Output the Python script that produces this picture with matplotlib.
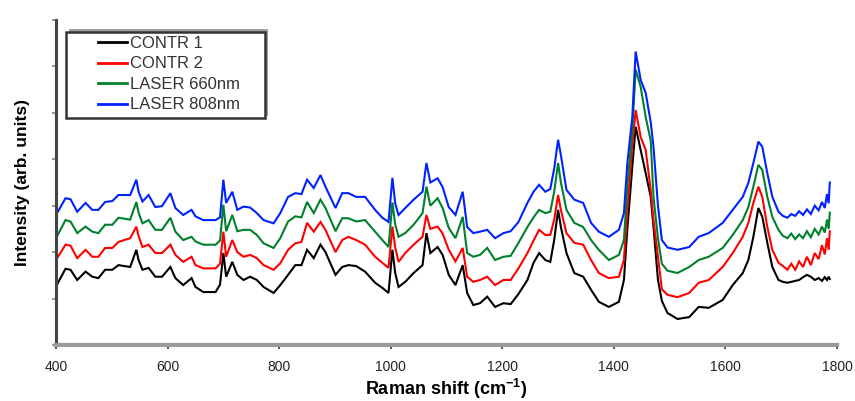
import matplotlib
matplotlib.use('Agg')
import matplotlib.pyplot as plt
from matplotlib.patches import Rectangle
from matplotlib.lines import Line2D

plt.rcParams['font.family'] = ['Liberation Sans', 'DejaVu Sans']
plt.rcParams['mathtext.default'] = 'regular'

# Raman shift positions (cm^-1), shared by all spectra
shift = [400, 417, 426, 438, 453, 465, 476, 488, 501, 512, 533, 544, 548, 555, 566,
         578, 590, 605, 614, 628, 643, 650, 664, 686, 694, 700, 705, 716, 725, 736,
         748, 760, 772, 790, 802, 816, 829, 840, 850, 862, 874, 883, 901, 913, 924,
         938, 954, 972, 985, 996, 1003, 1008, 1014, 1026, 1041, 1057, 1064, 1071, 1084,
         1093, 1104, 1116, 1129, 1137, 1148, 1160, 1173, 1187, 1202, 1215, 1229, 1245,
         1256, 1266, 1277, 1286, 1293, 1300, 1305, 1315, 1329, 1345, 1359, 1373, 1391,
         1409, 1418, 1424, 1433, 1439, 1448, 1457, 1466, 1471, 1479, 1486, 1496, 1514,
         1535, 1552, 1570, 1595, 1613, 1631, 1641, 1650, 1659, 1666, 1675, 1684, 1695,
         1703, 1711, 1718, 1725, 1732, 1739, 1746, 1753, 1760, 1767, 1773, 1778, 1782,
         1785, 1787]

contr1 = [1.26, 1.64, 1.62, 1.40, 1.58, 1.47, 1.44, 1.62, 1.62, 1.72, 1.68, 2.05, 1.83, 1.62, 1.66,
          1.47, 1.47, 1.68, 1.44, 1.29, 1.44, 1.25, 1.14, 1.14, 1.30, 1.98, 1.47, 1.79, 1.51, 1.40,
          1.47, 1.40, 1.25, 1.12, 1.29, 1.51, 1.72, 1.72, 2.05, 1.87, 2.16, 2.00, 1.51, 1.68, 1.72,
          1.70, 1.58, 1.34, 1.23, 1.12, 2.05, 1.55, 1.25, 1.36, 1.55, 1.72, 2.41, 1.98, 2.11,
          1.94, 1.51, 1.29, 1.72, 1.12, 0.86, 0.90, 1.04, 0.82, 0.90, 0.88, 1.10, 1.40,
          1.77, 1.98, 1.83, 1.79, 2.26, 2.91, 2.54, 1.98, 1.55, 1.47, 1.19, 0.93, 0.82,
          0.93, 1.40, 2.48, 3.84, 4.70, 4.20, 3.70, 3.19, 2.54, 1.40, 0.95, 0.69, 0.56,
          0.60, 0.82, 0.80, 0.97, 1.29, 1.55, 1.83, 2.33, 2.95, 2.76, 2.20, 1.68, 1.40,
          1.36, 1.34, 1.36, 1.38, 1.40, 1.46, 1.51, 1.47, 1.40, 1.44, 1.38, 1.46, 1.40,
          1.47, 1.42]

contr2 = [1.83, 2.16, 2.14, 1.87, 2.05, 1.90, 1.90, 2.09, 2.09, 2.22, 2.30, 2.55, 2.35, 2.11, 2.16,
          1.98, 1.98, 2.16, 1.94, 1.79, 1.90, 1.72, 1.65, 1.65, 1.75, 2.44, 1.90, 2.26, 2.00, 1.90,
          1.94, 1.87, 1.72, 1.62, 1.76, 2.05, 2.19, 2.22, 2.63, 2.44, 2.65, 2.48, 2.00, 2.26, 2.33,
          2.26, 2.16, 1.90, 1.77, 1.66, 2.55, 2.10, 1.79, 1.98, 2.16, 2.33, 2.80, 2.50, 2.55,
          2.40, 2.05, 1.80, 2.09, 1.47, 1.36, 1.40, 1.47, 1.29, 1.40, 1.40, 1.65, 1.98,
          2.25, 2.48, 2.37, 2.37, 2.70, 3.23, 2.91, 2.41, 2.20, 2.16, 1.83, 1.55, 1.44,
          1.47, 1.83, 2.90, 4.30, 5.06, 4.48, 4.20, 3.34, 2.70, 1.90, 1.20, 1.08, 1.03,
          1.12, 1.34, 1.40, 1.68, 1.98, 2.33, 2.63, 3.06, 3.41, 3.19, 2.54, 2.05, 1.77,
          1.70, 1.62, 1.75, 1.62, 1.80, 1.68, 1.90, 1.72, 1.98, 1.85, 2.15, 1.95, 2.30,
          2.05, 2.45]

laser660 = [2.30, 2.69, 2.66, 2.41, 2.55, 2.44, 2.41, 2.59, 2.59, 2.74, 2.70, 3.08, 2.85, 2.62, 2.69,
            2.48, 2.48, 2.74, 2.44, 2.26, 2.33, 2.23, 2.16, 2.16, 2.25, 3.02, 2.45, 2.80, 2.45, 2.48,
            2.48, 2.37, 2.19, 2.09, 2.30, 2.66, 2.77, 2.75, 3.08, 2.84, 3.13, 2.95, 2.45, 2.73, 2.73,
            2.66, 2.69, 2.44, 2.26, 2.11, 3.07, 2.60, 2.33, 2.41, 2.59, 2.84, 3.41, 3.00, 3.16,
            2.95, 2.52, 2.30, 2.76, 1.98, 1.90, 1.94, 2.09, 1.83, 1.90, 1.92, 2.20, 2.54,
            2.75, 2.91, 2.84, 2.87, 3.30, 3.92, 3.50, 2.91, 2.63, 2.54, 2.26, 2.05, 1.83,
            1.94, 2.26, 3.40, 4.63, 5.93, 5.56, 4.91, 4.40, 3.19, 2.30, 1.75, 1.60, 1.55,
            1.68, 1.83, 1.90, 2.09, 2.37, 2.69, 2.97, 3.41, 3.88, 3.77, 3.19, 2.76, 2.48,
            2.35, 2.30, 2.40, 2.28, 2.38, 2.30, 2.45, 2.32, 2.50, 2.38, 2.55, 2.42, 2.70,
            2.50, 2.85]

laser808 = [2.80, 3.16, 3.14, 2.87, 3.06, 2.91, 2.91, 3.08, 3.10, 3.23, 3.23, 3.56, 3.30, 3.09, 3.23,
            2.97, 2.99, 3.27, 2.95, 2.80, 2.91, 2.77, 2.69, 2.69, 2.75, 3.56, 3.06, 3.30, 2.91, 2.98,
            2.96, 2.84, 2.69, 2.62, 2.84, 3.19, 3.27, 3.25, 3.56, 3.38, 3.66, 3.41, 2.95, 3.27, 3.27,
            3.19, 3.19, 2.91, 2.74, 2.65, 3.60, 3.05, 2.80, 2.95, 3.13, 3.30, 3.92, 3.50, 3.59,
            3.40, 2.97, 2.80, 3.30, 2.54, 2.41, 2.44, 2.48, 2.30, 2.41, 2.45, 2.65, 3.06,
            3.30, 3.45, 3.30, 3.36, 3.80, 4.42, 4.09, 3.34, 3.13, 3.06, 2.63, 2.44, 2.33,
            2.48, 2.84, 3.90, 4.91, 6.32, 5.71, 5.43, 4.80, 4.27, 3.00, 2.26, 2.10, 2.05,
            2.11, 2.33, 2.41, 2.63, 2.91, 3.19, 3.49, 3.92, 4.38, 4.27, 3.70, 3.19, 2.87,
            2.78, 2.74, 2.82, 2.78, 2.88, 2.80, 2.92, 2.82, 3.00, 2.90, 3.08, 2.95, 3.25,
            3.05, 3.50]

names = ['CONTR 1', 'CONTR 2', 'LASER 660nm', 'LASER 808nm']
colors = ['#000000', '#ff0000', '#00802b', '#0022ff']
series = [contr1, contr2, laser660, laser808]

fig = plt.figure(figsize=(8.55, 4.01), dpi=100)
ax = fig.add_axes([0.0655, 0.1397, 0.9135, 0.8105])

for ys, c in zip(series, colors):
    ax.plot(shift, ys, color=c, lw=1.5, solid_joinstyle='miter')

ax.set_xlim(400, 1800)
ax.set_ylim(0, 7)
ax.set_xticks(range(400, 1801, 200))
ax.set_yticks(range(0, 8))
ax.set_yticklabels([])
ax.tick_params(axis='x', direction='out', length=3, width=1.2, color='#333333',
               labelsize=10, pad=8, labelcolor='#222222')
ax.tick_params(axis='y', direction='out', length=3, width=1.2, color='#888888')

for s in ['top', 'right']:
    ax.spines[s].set_visible(False)
ax.spines['left'].set_color('#444444')
ax.spines['left'].set_linewidth(2.2)
ax.spines['bottom'].set_color('#9a9a9a')
ax.spines['bottom'].set_linewidth(3)

ax.set_xlabel(r'Raman shift (cm$^{-1}$)', fontsize=13, fontweight='bold', labelpad=2)
ax.set_ylabel('Intensity (arb. units)', fontsize=12.5, fontweight='bold', labelpad=12)

# legend box with a grey offset shadow
x0, x1 = 0.0128, 0.2676
y0, y1 = 0.698, 0.963
ax.add_patch(Rectangle((x0 + 0.004, y0 + 0.008), x1 - x0, y1 - y0, transform=ax.transAxes,
                       facecolor='#a0a0a0', edgecolor='none', zorder=5, clip_on=False))
ax.add_patch(Rectangle((x0, y0), x1 - x0, y1 - y0, transform=ax.transAxes,
                       facecolor='white', edgecolor='#333333', lw=1.8, zorder=6, clip_on=False))

handles = [Line2D([], [], color=c, lw=2) for c in colors]
leg = ax.legend(handles, names, loc='upper left', bbox_to_anchor=(0.0538, 0.951),
                frameon=False, fontsize=12, handlelength=1.75, handletextpad=0.18,
                labelspacing=0.33, borderaxespad=0, borderpad=0)
leg.set_zorder(7)
for t in leg.get_texts():
    t.set_color('#333333')

fig.savefig('out.png', dpi=100)
